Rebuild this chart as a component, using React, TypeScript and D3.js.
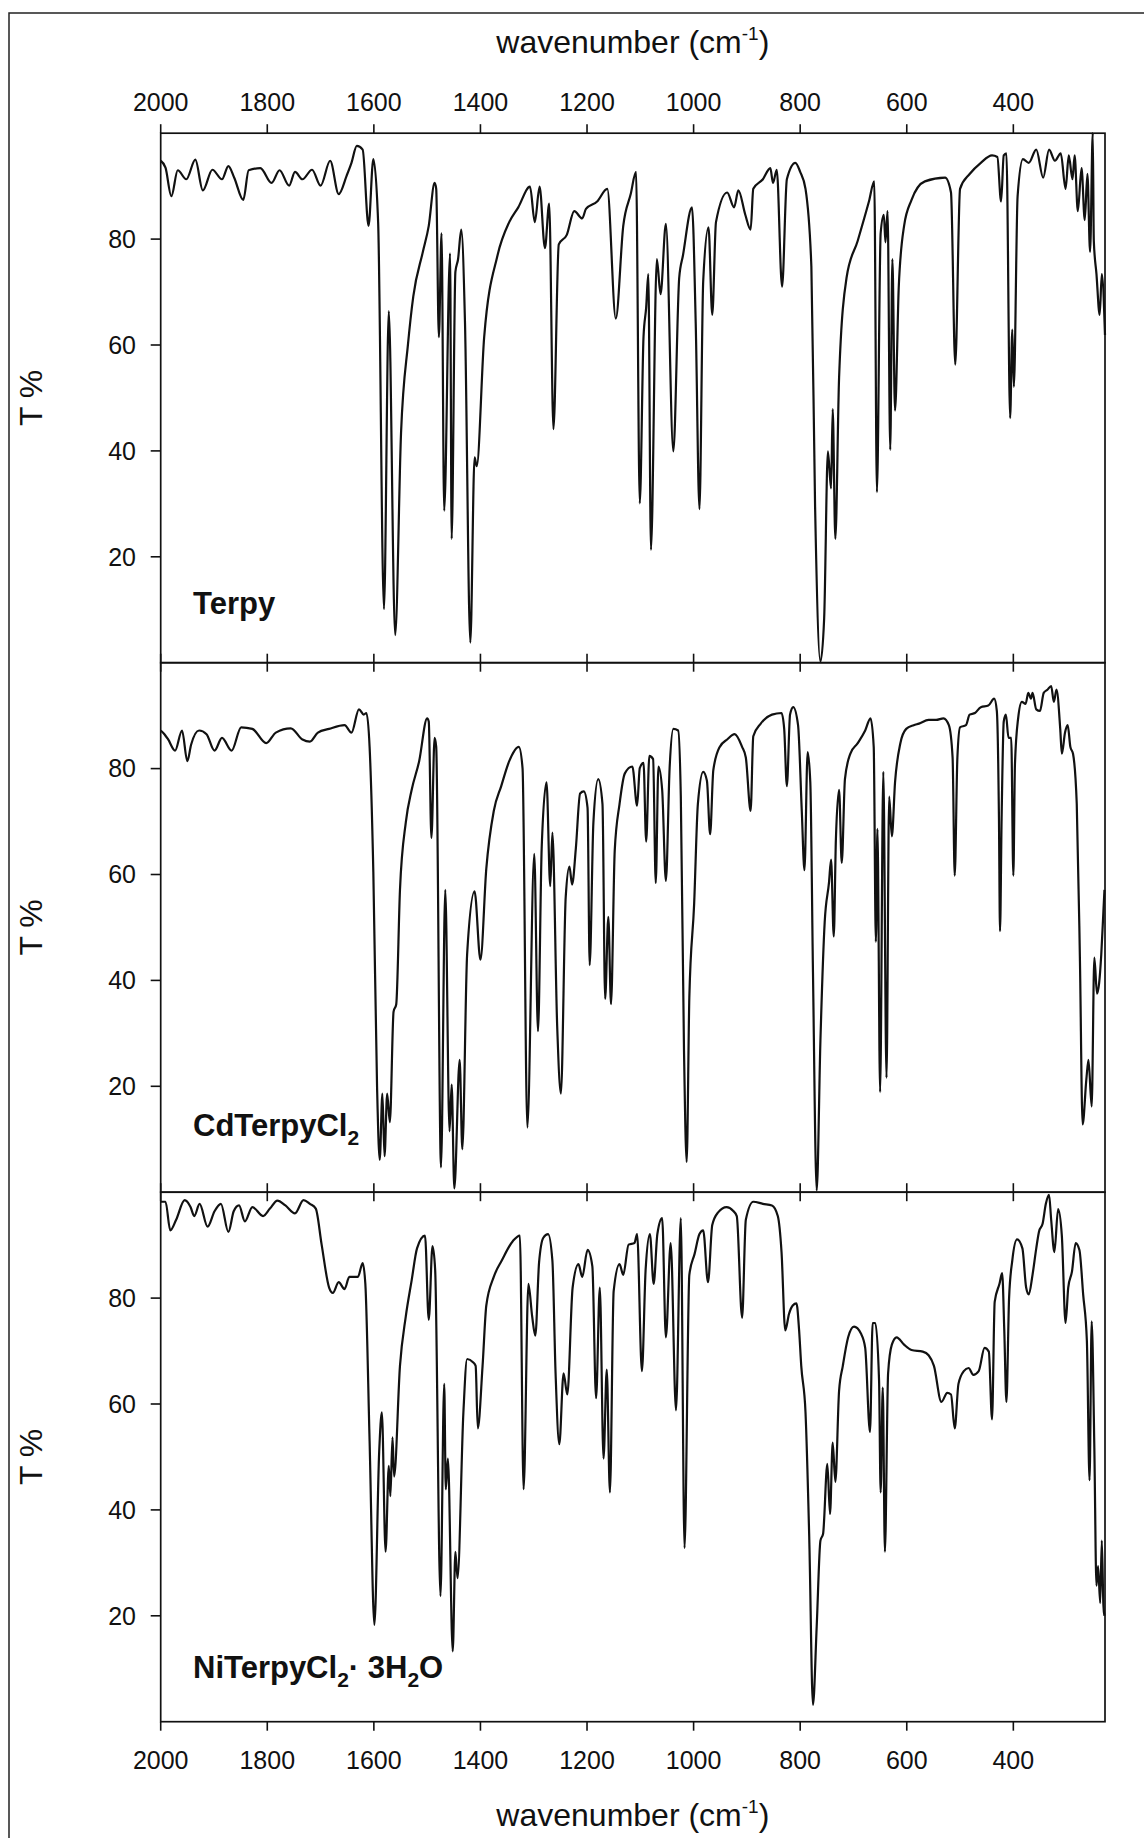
import React from "react";
import * as d3 from "d3";

// ---- data (wavenumber cm-1, transmittance %) ----
const terpyData: [number, number][] = [
  [2000,94.8],[1991,93.5],[1980,88.1],[1968,93.0],[1952,91.3],[1935,95.0],[1921,89.2],[1903,93.1],[1885,91.3],[1873,93.8],[1862,91.6],[1845,87.4],[1835,93.0],[1813,93.4],[1792,90.6],[1777,93.0],[1759,90.1],[1748,92.7],[1734,91.3],[1716,93.1],[1700,90.1],[1682,94.8],[1666,88.5],[1651,92.0],[1642,94.4],[1632,97.6],[1621,96.9],[1610,82.5],[1601,95.1],[1592,83.2],[1581,10.1],[1572,66.4],[1560,5.2],[1549,43.4],[1536,60.1],[1526,69.2],[1508,77.6],[1497,82.5],[1486,90.6],[1483,89.5],[1478,61.5],[1473,81.1],[1468,28.7],[1457,77.3],[1454,23.4],[1447,73.8],[1442,76.2],[1436,81.8],[1429,64.3],[1419,3.8],[1411,38.8],[1407,37.1],[1393,61.5],[1368,76.9],[1346,83.2],[1329,86.0],[1307,89.9],[1298,83.2],[1289,89.9],[1279,78.3],[1271,86.7],[1263,44.1],[1253,79.0],[1238,80.8],[1224,85.3],[1209,83.9],[1202,85.7],[1181,87.1],[1162,89.5],[1146,65.0],[1132,82.5],[1118,88.5],[1108,92.7],[1101,30.1],[1094,61.5],[1089,67.1],[1085,73.4],[1080,21.3],[1069,76.2],[1062,69.6],[1052,82.9],[1038,39.9],[1027,72.7],[1020,76.9],[1003,86.0],[996,64.0],[989,29.0],[982,72.0],[972,82.2],[965,65.7],[958,83.2],[937,88.8],[924,86.0],[916,89.2],[903,84.6],[893,81.8],[888,89.5],[870,91.3],[856,93.4],[851,90.6],[844,93.1],[834,71.0],[825,91.3],[809,94.4],[800,92.7],[790,89.5],[779,74.8],[772,29.4],[762,0.2],[755,8.4],[748,39.9],[742,32.9],[739,47.9],[734,23.4],[727,53.8],[713,72.7],[692,79.7],[671,87.1],[661,90.9],[656,32.2],[649,81.1],[643,84.6],[640,79.4],[636,85.3],[631,40.2],[627,76.2],[622,47.6],[615,71.0],[605,82.5],[591,87.4],[566,90.9],[528,91.6],[517,88.8],[509,56.3],[500,89.5],[482,92.3],[461,94.4],[440,95.8],[430,95.5],[423,87.1],[418,95.8],[413,96.2],[406,46.2],[402,62.9],[399,52.1],[392,88.1],[382,95.1],[371,94.4],[357,96.9],[344,91.6],[333,96.9],[322,94.8],[311,96.2],[302,89.5],[296,95.8],[289,91.3],[285,95.8],[279,85.3],[272,93.4],[266,83.6],[261,92.3],[256,77.6],[251,100],[249,79.7],[244,73.4],[238,65.7],[234,73.4],[228,61.9]
];

const cdData: [number, number][] = [
  [2000,87.2],[1993,86.5],[1986,85.5],[1973,83.4],[1960,87.2],[1950,81.4],[1943,84.5],[1928,87.2],[1914,86.5],[1899,83.4],[1885,85.8],[1867,83.4],[1849,87.8],[1828,87.5],[1802,84.8],[1784,86.8],[1756,87.6],[1734,85.5],[1720,85.1],[1705,86.8],[1684,87.5],[1655,88.2],[1642,86.8],[1628,91.2],[1619,90.2],[1614,90.5],[1608,84.1],[1601,60.5],[1594,19.9],[1589,6.1],[1584,18.6],[1580,6.8],[1575,18.6],[1570,13.2],[1563,34.1],[1558,35.5],[1551,57.1],[1540,69.9],[1529,76.0],[1515,81.4],[1500,89.5],[1497,88.9],[1492,66.9],[1486,85.8],[1483,84.1],[1474,4.7],[1466,57.1],[1458,11.5],[1454,20.3],[1449,0.7],[1439,25.0],[1434,8.1],[1425,44.9],[1411,56.8],[1400,43.9],[1389,61.1],[1375,72.0],[1361,76.7],[1346,81.4],[1328,84.1],[1321,80.1],[1312,12.2],[1299,63.9],[1292,30.4],[1285,65.2],[1276,77.4],[1269,57.8],[1265,67.9],[1256,31.4],[1249,18.6],[1240,55.7],[1233,61.5],[1228,58.1],[1221,64.9],[1213,75.3],[1206,75.7],[1199,72.6],[1195,42.9],[1188,69.9],[1179,78.0],[1171,73.3],[1166,36.5],[1160,52.0],[1155,35.5],[1148,64.5],[1139,73.3],[1129,79.1],[1115,80.4],[1106,73.0],[1101,80.1],[1094,81.1],[1089,66.2],[1083,82.4],[1076,81.8],[1071,58.4],[1066,80.4],[1059,76.0],[1052,58.8],[1045,80.1],[1038,87.5],[1029,87.2],[1024,74.7],[1018,26.7],[1013,5.7],[1008,36.8],[999,54.4],[992,73.3],[982,79.4],[975,77.7],[969,67.6],[963,79.7],[951,84.1],[937,85.5],[923,86.5],[909,84.1],[902,82.1],[893,72.0],[888,86.1],[874,88.5],[853,90.2],[835,90.5],[830,87.5],[825,76.7],[819,90.2],[813,91.6],[804,88.2],[797,72.0],[792,60.8],[786,83.1],[781,77.4],[776,41.6],[769,0.3],[762,28.7],[754,51.0],[746,58.4],[742,62.8],[737,48.3],[733,66.6],[727,76.0],[722,62.2],[716,78.0],[706,82.8],[692,84.8],[678,87.2],[668,89.5],[662,84.1],[658,47.3],[655,68.6],[650,18.9],[644,79.4],[638,21.6],[633,74.7],[628,67.2],[622,77.4],[612,84.8],[601,87.5],[587,88.2],[577,88.5],[559,89.2],[545,89.2],[531,89.5],[521,88.2],[514,82.1],[510,59.8],[505,82.1],[500,87.8],[489,88.2],[482,90.2],[472,90.5],[461,91.6],[447,91.9],[436,93.2],[431,90.9],[427,70.6],[425,49.3],[422,70.6],[418,88.9],[414,90.2],[409,85.8],[404,85.8],[400,59.8],[397,80.7],[391,89.5],[384,92.6],[377,92.2],[372,94.3],[367,93.2],[364,94.3],[357,91.2],[350,90.9],[343,94.3],[336,94.9],[329,95.6],[324,92.6],[319,94.9],[312,87.5],[309,82.8],[303,86.8],[298,88.2],[293,84.1],[288,82.8],[281,73.3],[275,43.6],[270,12.8],[263,21.3],[259,25.0],[253,16.2],[248,44.3],[243,37.5],[239,39.5],[235,44.9],[231,53.0],[229,57.1]
];

const niData: [number, number][] = [
  [2000,98.2],[1991,98.2],[1982,92.8],[1971,94.8],[1955,98.5],[1944,97.2],[1937,95.5],[1927,97.8],[1912,93.5],[1899,96.4],[1887,97.8],[1873,92.5],[1863,96.4],[1853,97.5],[1842,94.5],[1828,97.2],[1808,95.5],[1795,96.9],[1781,98.4],[1766,97.5],[1748,96.0],[1732,98.5],[1720,97.8],[1709,96.9],[1698,90.1],[1684,82.0],[1677,81.0],[1666,83.0],[1655,81.7],[1646,84.0],[1630,84.0],[1621,86.6],[1616,82.7],[1608,53.0],[1599,18.3],[1590,51.0],[1585,58.4],[1578,32.1],[1572,48.3],[1569,42.6],[1565,53.7],[1562,46.3],[1551,67.2],[1540,76.6],[1529,83.4],[1519,89.4],[1504,91.8],[1497,75.9],[1490,89.8],[1485,85.4],[1475,23.7],[1468,63.8],[1465,43.9],[1461,49.7],[1452,13.3],[1447,32.1],[1443,27.1],[1432,58.4],[1425,68.5],[1414,67.9],[1409,67.2],[1405,55.4],[1396,67.2],[1389,78.6],[1375,84.0],[1360,87.1],[1339,90.8],[1326,91.8],[1319,43.9],[1310,82.7],[1303,76.6],[1297,72.9],[1290,86.7],[1282,91.4],[1273,92.1],[1265,87.1],[1259,65.8],[1252,52.4],[1244,65.8],[1237,61.8],[1227,82.0],[1216,86.4],[1209,84.0],[1199,89.1],[1190,86.0],[1183,61.1],[1176,82.0],[1169,49.7],[1163,66.5],[1157,43.3],[1150,81.3],[1139,86.4],[1132,84.4],[1122,90.1],[1111,90.4],[1106,92.1],[1097,66.2],[1090,85.4],[1082,92.1],[1075,82.7],[1068,92.1],[1059,95.1],[1052,72.6],[1043,90.4],[1033,58.8],[1024,95.1],[1017,32.8],[1008,84.4],[998,88.4],[989,92.1],[982,92.8],[973,83.0],[965,93.8],[954,96.2],[938,97.2],[926,96.5],[919,95.5],[909,76.3],[902,94.8],[888,98.2],[870,97.8],[853,97.5],[842,95.5],[835,88.7],[828,73.9],[821,77.0],[814,78.6],[807,79.0],[802,73.9],[798,67.2],[790,58.4],[783,34.8],[776,3.2],[769,18.0],[762,34.2],[757,35.5],[749,48.7],[744,39.2],[739,52.7],[734,45.3],[727,62.5],[720,67.2],[710,72.6],[699,74.6],[686,73.3],[678,70.6],[669,54.7],[664,75.3],[659,75.3],[652,64.5],[649,43.3],[645,63.1],[641,32.1],[635,65.8],[628,71.2],[619,72.6],[605,71.2],[591,70.2],[570,69.9],[559,69.2],[549,67.2],[535,60.4],[524,62.1],[517,61.8],[510,55.4],[503,63.8],[493,66.2],[484,66.8],[475,65.5],[465,66.2],[454,70.6],[446,69.9],[440,57.1],[435,79.3],[426,82.7],[421,84.7],[417,73.9],[413,60.4],[408,80.0],[402,87.1],[393,91.1],[383,89.4],[376,82.0],[371,80.7],[364,84.4],[357,89.4],[352,92.5],[345,94.1],[339,97.8],[333,99.5],[329,94.8],[323,88.7],[316,96.8],[309,91.8],[302,75.3],[297,82.0],[290,85.0],[283,90.4],[276,89.1],[269,80.7],[262,71.9],[257,45.6],[253,75.6],[248,51.7],[244,25.7],[241,29.4],[237,22.4],[234,34.2],[231,22.0],[229,20.0]
];

const xTicks = [2000, 1800, 1600, 1400, 1200, 1000, 800, 600, 400];
const yTicks = [20, 40, 60, 80];
const xDomain: [number, number] = [2000, 228];
const yDomain: [number, number] = [0, 100];

const W = 1144;
const H = 1838;
const FONT = "'Liberation Sans', Arial, Helvetica, sans-serif";

const plotLeft = 160.7;
const plotRight = 1105;
const panelTop = 133.2;
const panelH = 529.5;

const panels = [
  { data: terpyData, labelY: 614 },
  { data: cdData, labelY: 1136 },
  { data: niData, labelY: 1678 },
];

export default function App() {
  const x = d3.scaleLinear().domain(xDomain).range([plotLeft, plotRight]);

  return (
    <svg
      width={W}
      height={H}
      viewBox={`0 0 ${W} ${H}`}
      style={{ position: "absolute", left: 0, top: 0, background: "#fff" }}
      fontFamily={FONT}
    >
      <rect x={0} y={0} width={W} height={H} fill="#fff" />
      <rect x={9} y={13} width={1300} height={2000} fill="none" stroke="#222" strokeWidth={1.5} />

      {/* top title */}
      <text x={(plotLeft + plotRight) / 2} y={53} fontSize={32} textAnchor="middle" fill="#111">
        wavenumber (cm<tspan fontSize={19} dy={-13}>-1</tspan><tspan dy={13}>)</tspan>
      </text>

      {panels.map((p, i) => {
        const top = panelTop + i * panelH;
        const bottom = top + panelH;
        const y = d3.scaleLinear().domain(yDomain).range([bottom, top]);
        const line = d3
          .line<[number, number]>()
          .x((d) => x(d[0]))
          .y((d) => y(d[1]))
          .curve(d3.curveMonotoneX);
        const cy = (top + bottom) / 2;
        return (
          <g key={i}>
            <path d={line(p.data) || ""} fill="none" stroke="#111" strokeWidth={2.2} strokeLinejoin="round" />
            <rect x={plotLeft} y={top} width={plotRight - plotLeft} height={panelH} fill="none" stroke="#111" strokeWidth={1.7} />
            {xTicks.map((t) => (
              <g key={t}>
                <line x1={x(t)} x2={x(t)} y1={top} y2={top - 9} stroke="#111" strokeWidth={1.6} />
                <line x1={x(t)} x2={x(t)} y1={bottom} y2={bottom + 9} stroke="#111" strokeWidth={1.6} />
              </g>
            ))}
            {yTicks.map((t) => (
              <g key={t}>
                <line x1={plotLeft} x2={plotLeft - 10} y1={y(t)} y2={y(t)} stroke="#111" strokeWidth={1.6} />
                <text x={136} y={y(t) + 8.8} fontSize={25} textAnchor="end" fill="#111">
                  {t}
                </text>
              </g>
            ))}
            <text
              transform={`translate(${42},${cy}) rotate(-90)`}
              fontSize={32}
              textAnchor="middle"
              fill="#111"
            >
              T %
            </text>
          </g>
        );
      })}

      {/* top tick labels */}
      {xTicks.map((t) => (
        <text key={"tt" + t} x={x(t)} y={111} fontSize={25} textAnchor="middle" fill="#111">
          {t}
        </text>
      ))}
      {/* bottom tick labels */}
      {xTicks.map((t) => (
        <text key={"bt" + t} x={x(t)} y={1769} fontSize={25} textAnchor="middle" fill="#111">
          {t}
        </text>
      ))}

      {/* sample labels */}
      <text x={193} y={panels[0].labelY} fontSize={31} fontWeight="bold" fill="#111">
        Terpy
      </text>
      <text x={193} y={panels[1].labelY} fontSize={31} fontWeight="bold" fill="#111">
        CdTerpyCl<tspan fontSize={21} dy={9}>2</tspan>
      </text>
      <text x={193} y={panels[2].labelY} fontSize={31} fontWeight="bold" fill="#111">
        NiTerpyCl<tspan fontSize={21} dy={9}>2</tspan>
        <tspan dy={-9}>· 3H</tspan>
        <tspan fontSize={21} dy={9}>2</tspan>
        <tspan dy={-9}>O</tspan>
      </text>

      {/* bottom title */}
      <text x={(plotLeft + plotRight) / 2} y={1826} fontSize={32} textAnchor="middle" fill="#111">
        wavenumber (cm<tspan fontSize={19} dy={-13}>-1</tspan><tspan dy={13}>)</tspan>
      </text>
    </svg>
  );
}
